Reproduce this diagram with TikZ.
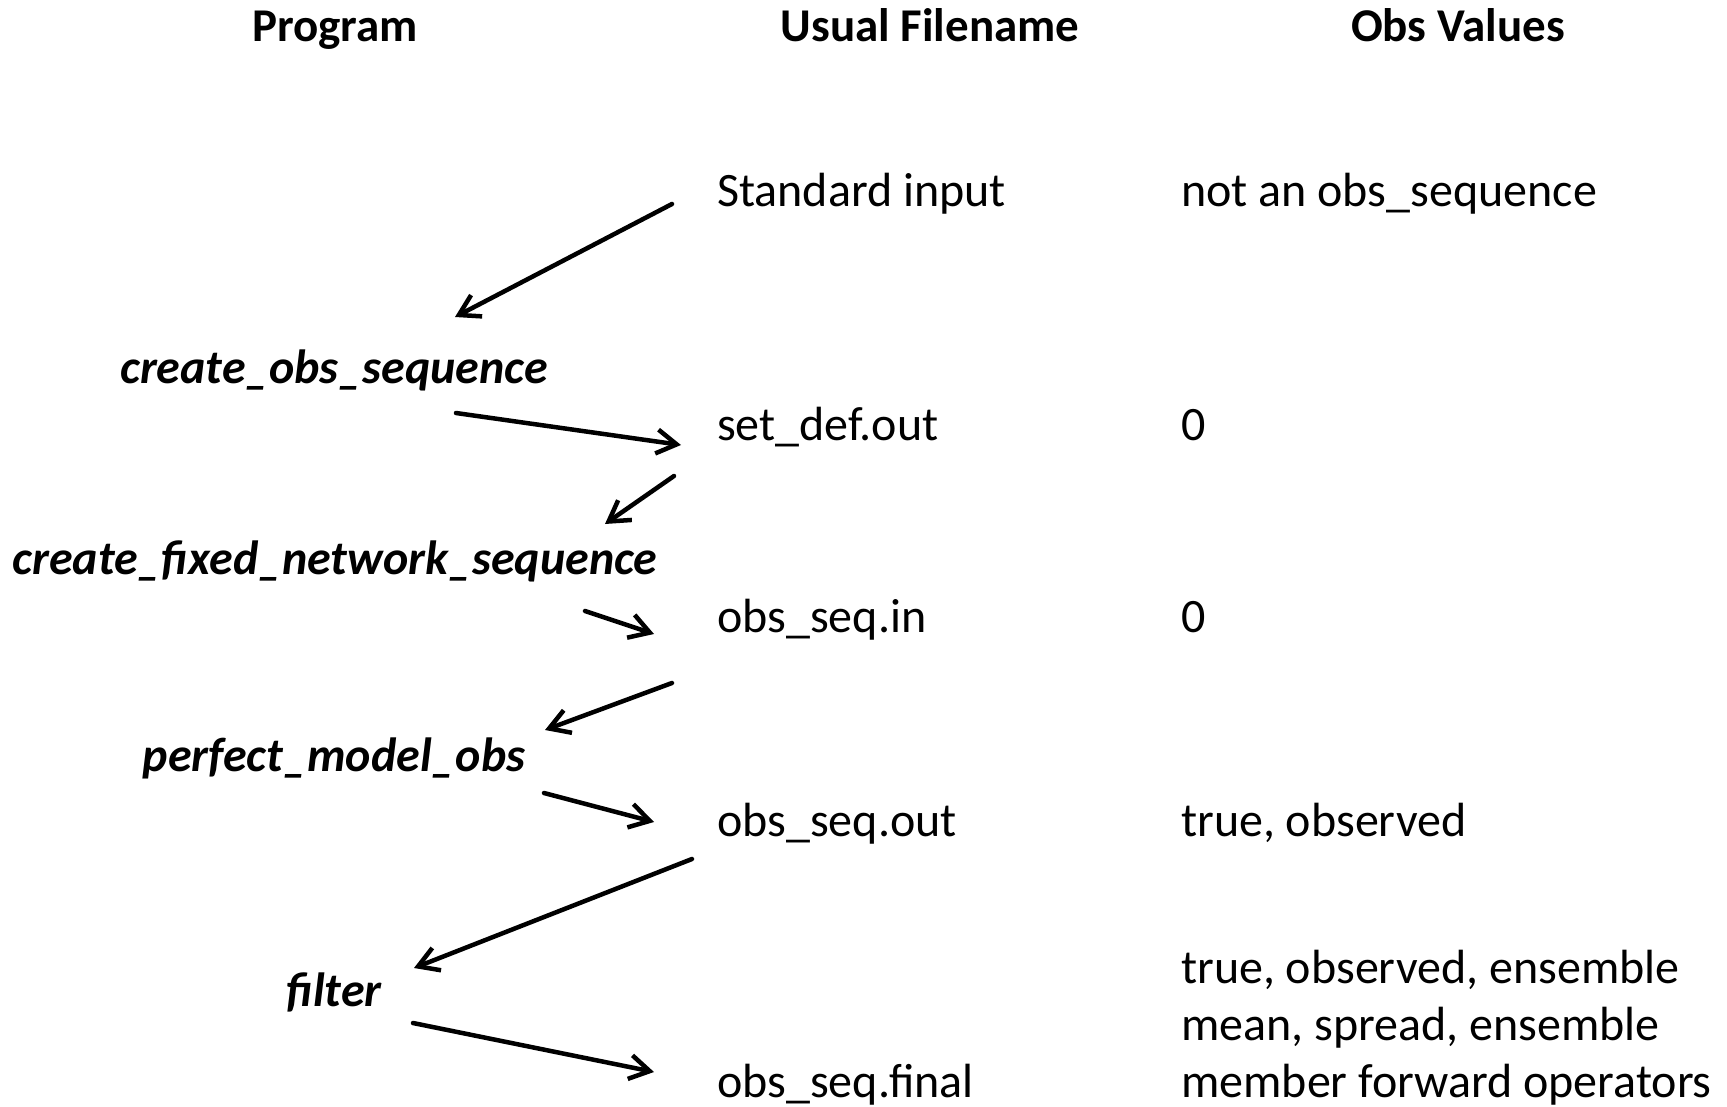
\documentclass[tikz,border=0pt]{standalone}
\usepackage{fontspec}
\setmainfont{Carlito}
\usetikzlibrary{arrows.meta,calc}
\tikzset{
  txt/.style={inner sep=0pt, font=\fontsize{48}{58}\selectfont},
  fname/.style={txt, anchor=base west},
  prog/.style={txt, anchor=base, font=\fontsize{48}{58}\selectfont\bfseries\itshape},
  head/.style={txt, anchor=base, font=\fontsize{47}{58}\selectfont\bfseries},
  flow/.style={line width=4.5pt, line cap=round, -{Straight Barb[length=20pt,width=24pt,line width=4.5pt]}}
}
\begin{document}
\begin{tikzpicture}[x=1pt,y=-1pt]
\path[use as bounding box] (0,0) rectangle (1727,1107);
% headers
\node[head] (hprog) at (335,42) {Program};
\node[head] (hfile) at (930,42) {Usual Filename};
\node[head] (hobs) at (1458,42) {Obs Values};
% file names
\node[fname] (std) at (717,207) {Standard input};
\node[fname] (sdo) at (717,440) {set\_def.out};
\node[fname] (osi) at (717,632) {obs\_seq.in};
\node[fname] (oso) at (717,836) {obs\_seq.out};
\node[fname] (osf) at (717,1097) {obs\_seq.final};
% obs values
\node[fname] (v1) at (1181,207) {not an obs\_sequence};
\node[fname] (v2) at (1181,440) {0};
\node[fname] (v3) at (1181,632) {0};
\node[fname] (v4) at (1181,836) {true, observed};
\node[fname] (v5a) at (1181,983.5) {true, observed, ensemble};
\node[fname] (v5b) at (1181,1040) {mean, spread, ensemble};
\node[fname] (v5c) at (1181,1097) {member forward operators};
% programs
\node[prog] (cos) at (334,383) {create\_obs\_sequence};
\node[prog] (cfn) at (335,574) {create\_fixed\_network\_sequence};
\node[prog] (pmo) at (334,771) {perfect\_model\_obs};
\node[prog] (flt) at (334,1006) {filter};
% connectors
\draw[flow] ($(std.base west)+(-45,-3)$) -- ($(cos.base)+(121,-66)$);
\draw[flow] ($(cos.base)+(122,30)$) -- ($(sdo.base west)+(-36,5)$);
\draw[flow] ($(sdo.base west)+(-43,36)$) -- ($(cfn.base)+(270,-50)$);
\draw[flow] ($(cfn.base)+(250,37)$) -- ($(osi.base west)+(-63,2)$);
\draw[flow] ($(osi.base west)+(-45,51)$) -- ($(pmo.base)+(211,-41)$);
\draw[flow] ($(pmo.base)+(210,22)$) -- ($(oso.base west)+(-63,-14)$);
\draw[flow] ($(oso.base west)+(-25,23)$) -- ($(flt.base)+(80,-38)$);
\draw[flow] ($(flt.base)+(79,17)$) -- ($(osf.base west)+(-63,-25)$);
\end{tikzpicture}
\end{document}
